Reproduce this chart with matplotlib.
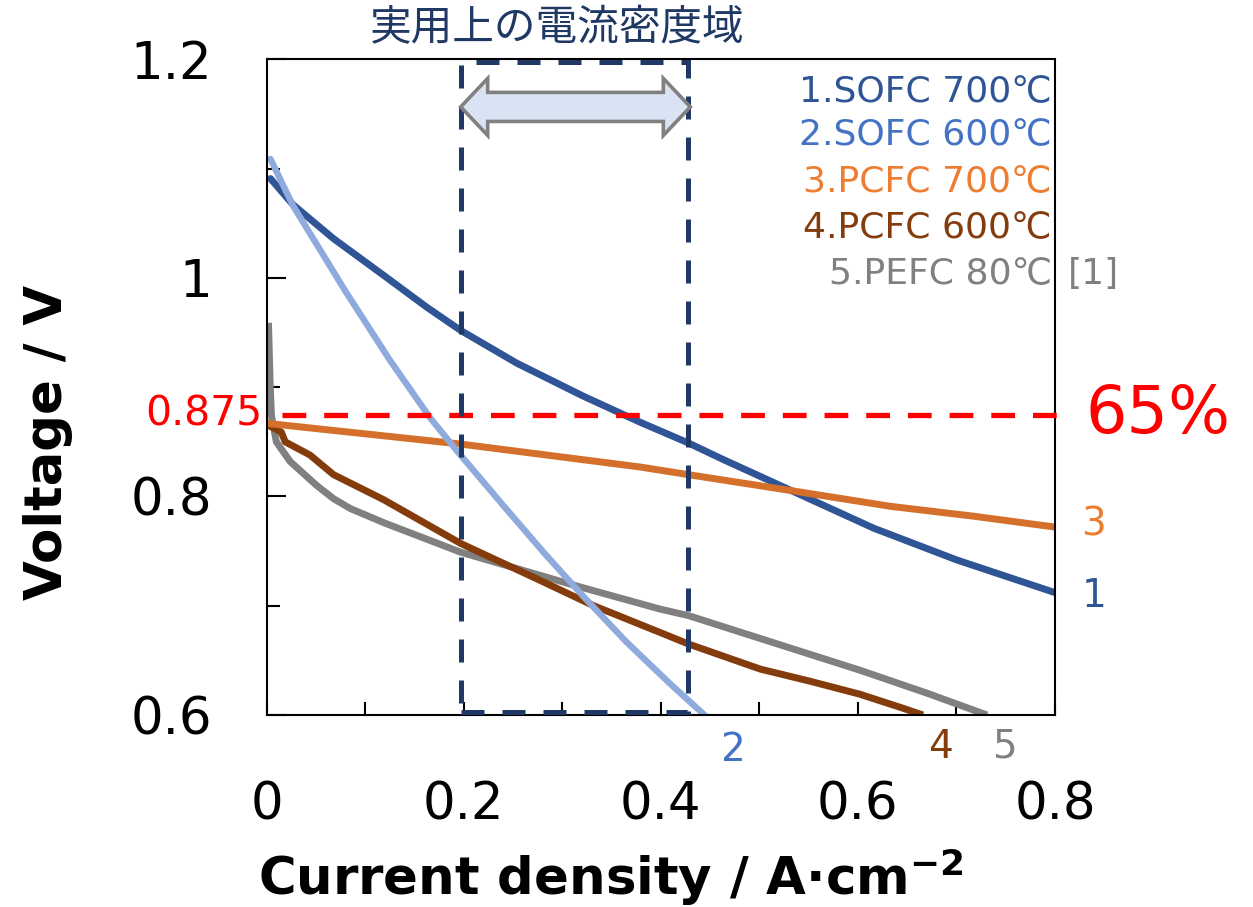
import numpy as np
import matplotlib
matplotlib.use("Agg")
import matplotlib.pyplot as plt
from matplotlib.patches import Polygon, Rectangle

plt.rcParams['font.family'] = ['DejaVu Sans', 'Noto Sans CJK JP']

# current density (A/cm2) and cell voltage (V)
sofc700_j = [0.004, 0.027, 0.068, 0.118, 0.163, 0.197, 0.254, 0.321, 0.379, 0.428, 0.463, 0.531, 0.616, 0.700, 0.800]
sofc700_v = [1.091, 1.067, 1.036, 1.003, 0.973, 0.952, 0.922, 0.892, 0.868, 0.849, 0.834, 0.806, 0.771, 0.742, 0.712]

sofc600_j = [0.004, 0.027, 0.080, 0.125, 0.166, 0.193, 0.240, 0.281, 0.323, 0.365, 0.409, 0.448]
sofc600_v = [1.109, 1.066, 0.988, 0.925, 0.872, 0.842, 0.792, 0.749, 0.707, 0.667, 0.629, 0.597]

pcfc700_j = [0.0, 0.197, 0.379, 0.428, 0.528, 0.633, 0.717, 0.800]
pcfc700_v = [0.867, 0.848, 0.827, 0.820, 0.806, 0.791, 0.782, 0.772]

pcfc600_j = [0.0, 0.015, 0.019, 0.044, 0.068, 0.119, 0.197, 0.271, 0.332, 0.409, 0.428, 0.501, 0.551, 0.602, 0.643, 0.666]
pcfc600_v = [0.866, 0.859, 0.850, 0.838, 0.820, 0.797, 0.757, 0.726, 0.700, 0.672, 0.665, 0.642, 0.631, 0.619, 0.607, 0.600]

pefc80_j = [0.002, 0.0036, 0.005, 0.010, 0.024, 0.051, 0.068, 0.085, 0.119, 0.197, 0.315, 0.399, 0.428, 0.501, 0.602, 0.670, 0.731]
pefc80_v = [0.959, 0.905, 0.874, 0.850, 0.832, 0.810, 0.798, 0.789, 0.776, 0.749, 0.718, 0.697, 0.691, 0.670, 0.641, 0.620, 0.600]

legend_labels = ['1.SOFC 700℃', '2.SOFC 600℃', '3.PCFC 700℃', '4.PCFC 600℃', '5.PEFC 80℃']
legend_colors = ['#2F5597', '#4472C4', '#ED7D31', '#843C0C', '#808080']

target_v = 0.875            # 65 % efficiency line
practical_j = [0.197, 0.428]  # practical current density range
practical_v = [0.603, 1.198]
arrow_j = [0.197, 0.430]
arrow_v = 1.1566

navy = '#203864'

fig = plt.figure(figsize=(12.53, 9.07), dpi=100)
ax = fig.add_axes([0.2127, 0.2117, 0.6293, 0.7227])

lw = 5.0
ax.plot(pefc80_j, pefc80_v, color='#808080', lw=lw, solid_capstyle='butt', solid_joinstyle='round')
ax.plot(pcfc600_j, pcfc600_v, color='#843C0C', lw=lw, solid_capstyle='butt', solid_joinstyle='round')
ax.plot(sofc700_j, sofc700_v, color='#2F5597', lw=lw, solid_capstyle='round', solid_joinstyle='round')
ax.plot(pcfc700_j, pcfc700_v, color='#D4702C', lw=lw, solid_capstyle='butt', solid_joinstyle='round')
ax.plot(sofc600_j, sofc600_v, color='#8FAADC', lw=4.6, solid_capstyle='round', solid_joinstyle='round')

# 65% line
ax.plot([0.016, 0.807], [target_v, target_v], color='#FF0000', lw=3.8,
        linestyle=(0, (4.5, 3.4)), clip_on=False, zorder=5)
ax.annotate('0.875', xy=(0, target_v), xytext=(-4, 0), textcoords='offset pixels',
            ha='right', va='center', color='#FF0000', fontsize=29.5, annotation_clip=False)
ax.annotate('65%', xy=(0.8, target_v), xytext=(30, 0), textcoords='offset pixels',
            ha='left', va='center', color='#FF0000', fontsize=47, annotation_clip=False)

# practical range box
ax.add_patch(Rectangle((practical_j[0], practical_v[0]), practical_j[1] - practical_j[0],
                       practical_v[1] - practical_v[0], fill=False, ec=navy, lw=3.6,
                       linestyle=(0, (4.6, 3.6)), clip_on=False, zorder=6))

# double block arrow
body = 0.0133
head = 0.0261
hlen = 0.0274
a0, a1 = arrow_j
pts = [(a0, arrow_v), (a0 + hlen, arrow_v + head), (a0 + hlen, arrow_v + body),
       (a1 - hlen, arrow_v + body), (a1 - hlen, arrow_v + head), (a1, arrow_v),
       (a1 - hlen, arrow_v - head), (a1 - hlen, arrow_v - body),
       (a0 + hlen, arrow_v - body), (a0 + hlen, arrow_v - head)]
ax.add_patch(Polygon(pts, closed=True, fc='#DAE3F3', ec='#808080', lw=2.6,
                     joinstyle='miter', zorder=7))

fig.text(557.5 / 1253, 1 - 28.3 / 907, '実用上の電流密度域', ha='center', va='center',
         fontsize=30, color=navy, family=['Noto Sans CJK JP', 'DejaVu Sans'])

# legend text
leg_y = [0.950, 0.885, 0.813, 0.743, 0.672]
for lab, col, yy in zip(legend_labels, legend_colors, leg_y):
    ax.text(0.996, yy, lab, transform=ax.transAxes, ha='right', va='center',
            fontsize=26, color=col)
ax.text(1.016, leg_y[-1], '[1]', transform=ax.transAxes, ha='left', va='center',
        fontsize=26, color='#808080')

# curve numbers
ends = [('1', sofc700_j, sofc700_v, '#2F5597', (39, -3)),
        ('3', pcfc700_j, pcfc700_v, '#ED7D31', (38, 3)),
        ('2', sofc600_j, sofc600_v, '#4472C4', (24, -32)),
        ('4', pcfc600_j, pcfc600_v, '#843C0C', (17, -32)),
        ('5', pefc80_j, pefc80_v, '#808080', (17, -32))]
for lab, jj, vv, col, off in ends:
    ax.annotate(lab, xy=(jj[-1], vv[-1]), xytext=off, textcoords='offset pixels',
                ha='center', va='center', fontsize=28, color=col, annotation_clip=False)

ax.set_xlim(0, 0.8)
ax.set_ylim(0.6, 1.2)
ax.set_xticks([0, 0.2, 0.4, 0.6, 0.8])
ax.set_xticklabels(['0', '0.2', '0.4', '0.6', '0.8'])
ax.set_xticks([0.1, 0.3, 0.5, 0.7], minor=True)
ax.set_yticks([0.6, 0.8, 1.0, 1.2])
ax.set_yticklabels(['0.6', '0.8', '1', '1.2'])
ax.set_yticks([0.7, 0.9, 1.1], minor=True)
ax.tick_params(axis='both', which='both', direction='in', width=1.5)
ax.tick_params(axis='x', which='both', length=9.4, pad=47, labelsize=37)
ax.tick_params(axis='y', which='major', length=13.7, pad=39, labelsize=37)
ax.tick_params(axis='y', which='minor', length=9.4)
for sp in ax.spines.values():
    sp.set_linewidth(1.5)

fig.text(48 / 1253, 1 - 442 / 907, 'Voltage / V', rotation=90, ha='center', va='center',
         fontsize=37, fontweight='bold')
fig.text(611 / 1253, 1 - 877 / 907, r'Current density / A·cm$^{\mathbf{-2}}$', ha='center',
         va='center', fontsize=37, fontweight='bold')

fig.savefig('out.png', dpi=100)
